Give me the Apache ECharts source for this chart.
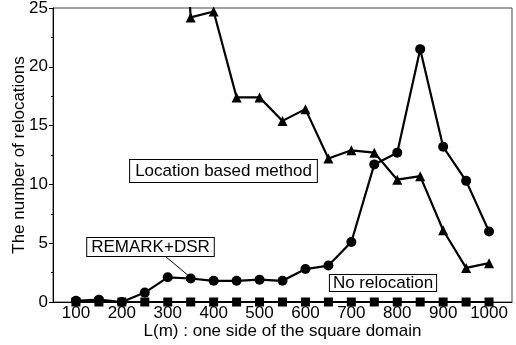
<!DOCTYPE html>
<html><head><meta charset="utf-8">
<script src="https://cdn.jsdelivr.net/npm/echarts@6/dist/echarts.min.js"></script>
<style>html,body{margin:0;padding:0;background:#fff}#c{width:516px;height:345px}</style>
</head><body><div id="c"></div>
<script>
// L(m) values
const xValues = [100,150,200,250,300,350,400,450,500,550,600,650,700,750,800,850,900,950,1000];
// REMARK+DSR (circles)
const remarkDsr = [0.1,0.2,0.0,0.8,2.1,2.0,1.8,1.8,1.9,1.8,2.8,3.1,5.1,11.7,12.7,21.5,13.2,10.3,6.0];
// Location based method (triangles); points at 100-300 lie above the plotted range
const locationBased = [90,80,70,62,55,24.2,24.7,17.4,17.4,15.4,16.4,12.2,12.9,12.7,10.4,10.7,6.1,2.9,3.3];
// No relocation (squares)
const noRelocation = [0,0,0,0,0,0,0,0,0,0,0,0,0,0,0,0,0,0,0];
// tick labels
const xTickLabels = [100,200,300,400,500,600,700,800,900,1000];
const yTickLabels = [0,5,10,15,20,25];

const FONT = 'Liberation Sans, Arial, sans-serif';
const pairs = arr => xValues.map((x,i) => [x, arr[i]]);
const chart = echarts.init(document.getElementById('c'), null, {renderer:'canvas'});
const lineSeries = (name, data, symbol, size) => ({
  name, type:'line', data: pairs(data), symbol, symbolSize: size,
  clip: true, showAllSymbol: true,
  lineStyle:{color:'#000', width:2.2}, itemStyle:{color:'#000'},
  emphasis:{disabled:true}, animation:false
});
chart.setOption({
  animation:false,
  backgroundColor:'#fff',
  grid:{left:53, right:4, top:8, bottom:43, outerBoundsMode:'none', containLabel:false,
    show:true, borderColor:'#444', borderWidth:1, backgroundColor:'transparent'},
  xAxis:{
    type:'value', min:50, max:1050,
    name:'L(m) : one side of the square domain', nameLocation:'middle', nameGap:21, nameMoveOverlap:false,
    nameTextStyle:{fontFamily:FONT, fontSize:17, color:'#000'},
    axisLine:{show:true, lineStyle:{color:'#000', width:1}},
    axisTick:{show:false},
    splitLine:{show:false},
    axisLabel:{customValues:xTickLabels, formatter: v => String(v), fontFamily:FONT, fontSize:17, color:'#000', margin:3}
  },
  yAxis:{
    type:'value', min:0, max:25, interval:5,
    name:'The number of relocations', nameLocation:'middle', nameGap:25, nameMoveOverlap:false,
    nameTextStyle:{fontFamily:FONT, fontSize:17, color:'#000'},
    axisLine:{show:true, lineStyle:{color:'#000', width:1}},
    axisTick:{show:true, inside:false, length:4, lineStyle:{color:'#000'}},
    minorTick:{show:true, splitNumber:2, length:2, lineStyle:{color:'#000'}},
    splitLine:{show:false},
    axisLabel:{customValues:yTickLabels, formatter: v => String(v), fontFamily:FONT, fontSize:17, color:'#000', margin:5}
  },
  series:[
    lineSeries('Location based method', locationBased, 'triangle', 10),
    lineSeries('REMARK+DSR', remarkDsr, 'circle', 10),
    lineSeries('No relocation', noRelocation, 'rect', 9)
  ],
  graphic:[
    {type:'text', x:223.5, y:171, z:100, style:{text:'Location based method', font:'17px '+FONT, fill:'#000', lineHeight:17,
      align:'center', verticalAlign:'middle', backgroundColor:'#fff', borderColor:'#000', borderWidth:1, padding:[3,5,2,5]}},
    {type:'line', z:90, shape:{x1:165,y1:256,x2:190,y2:277}, style:{stroke:'#000', lineWidth:1}},
    {type:'text', x:150.5, y:247, z:100, style:{text:'REMARK+DSR', font:'17px '+FONT, fill:'#000', lineHeight:17,
      align:'center', verticalAlign:'middle', backgroundColor:'#fff', borderColor:'#000', borderWidth:1, padding:[1,4,0,4]}},
    {type:'text', x:383, y:283, z:100, style:{text:'No relocation', font:'17px '+FONT, fill:'#000', lineHeight:16,
      align:'center', verticalAlign:'middle', backgroundColor:'#fff', borderColor:'#000', borderWidth:1, padding:[0,3,0,3]}}
  ]
});
</script></body></html>
